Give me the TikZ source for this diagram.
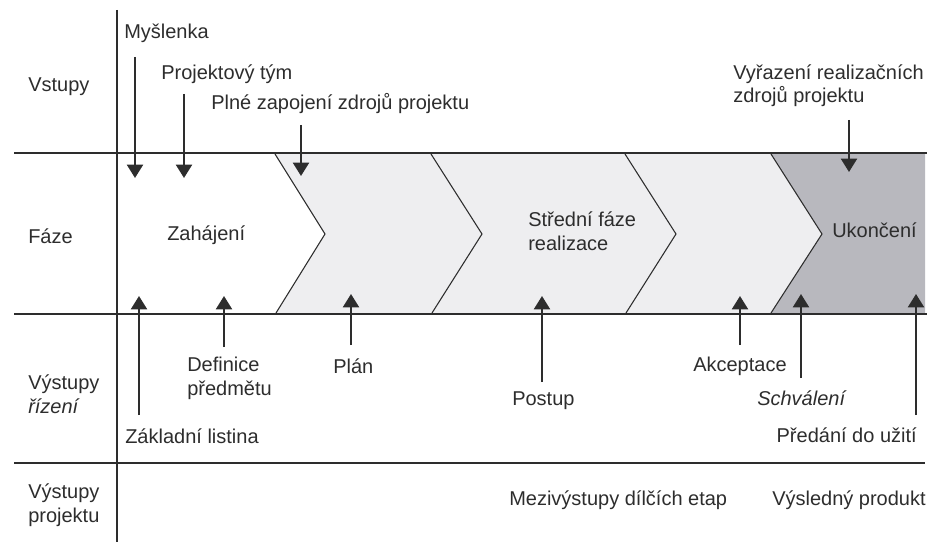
\documentclass[tikz,border=0pt]{standalone}
\usepackage{fontspec}
\setmainfont{Liberation Sans}
\usepackage{tikz}
\usetikzlibrary{arrows.meta}

\definecolor{phaselight}{RGB}{238,238,240}
\definecolor{phasedark}{RGB}{184,184,190}
\definecolor{inkgray}{RGB}{45,45,45}

\begin{document}
\begin{tikzpicture}[x=7.5pt,y=7.5pt]
\tikzset{every node/.style={inner sep=0pt,text=inkgray,font=\fontsize{15}{17.3}\selectfont,align=left},
  lbl/.style={anchor=base west},
  rule/.style={inkgray,line width=1.5pt},
  edge/.style={inkgray,line width=0.8pt},
  flow/.style={inkgray,line width=1.6pt,-{Triangle[width=12pt,length=10pt]}}}
\useasboundingbox (0,0) rectangle (92.9,-54.2);
% phase band
\fill [phaselight] (27.5,-15.4) -- (77.1,-15.4) -- (82.2,-23.4) -- (77.1,-31.3) -- (27.6,-31.3) -- (32.5,-23.4) -- cycle;
\fill [phasedark] (77.1,-15.4) -- (92.5,-15.4) -- (92.5,-31.3) -- (77.1,-31.3) -- (82.2,-23.4) -- cycle;
\draw [edge] (27.5,-15.4) -- (32.5,-23.4) -- (27.6,-31.3);
\draw [edge] (43.1,-15.4) -- (48.2,-23.4) -- (43.2,-31.3);
\draw [edge] (62.5,-15.4) -- (67.6,-23.4) -- (62.6,-31.3);
\draw [edge] (77.1,-15.4) -- (82.2,-23.4) -- (77.1,-31.3);
% grid
\draw [rule] (1.4,-15.3) -- (92.7,-15.3);
\draw [rule] (1.4,-31.4) -- (92.7,-31.4);
\draw [rule] (1.4,-46.3) -- (92.5,-46.3);
\draw [rule] (11.7,-1.0) -- (11.7,-54.2);
% row labels
\draw (2.8,-9.2) node [lbl] (vstupy) {Vstupy};
\draw (2.8,-24.3) node [lbl] (faze) {Fáze};
\draw (2.8,-41.3) node [lbl] (rizeni) {Výstupy\\\textit{řízení}};
\draw (2.8,-52.2) node [lbl] (produkty) {Výstupy\\projektu};
% phases
\draw (16.7,-24.0) node [lbl] (zahajeni) {Zahájení};
\draw (52.8,-25.0) node [lbl] (stredni) {Střední fáze\\realizace};
\draw (83.2,-23.7) node [lbl] (ukonceni) {Ukončení};
% inputs
\draw (12.4,-3.9) node [lbl] (myslenka) {Myšlenka};
\draw (16.1,-8.0) node [lbl] (tym) {Projektový tým};
\draw (21.1,-11.0) node [lbl] (zdroje) {Plné zapojení zdrojů projektu};
\draw (73.3,-10.3) node [lbl] (vyrazeni) {Vyřazení realizačních\\zdrojů projektu};
\coordinate (myslenka1) at (13.5,-5.7);
\coordinate (myslenka2) at (13.5,-17.8);
\coordinate (tym1) at (18.4,-9.4);
\coordinate (tym2) at (18.4,-17.8);
\coordinate (zdroje1) at (30.1,-12.5);
\coordinate (zdroje2) at (30.1,-17.6);
\coordinate (vyrazeni1) at (84.9,-12.0);
\coordinate (vyrazeni2) at (84.9,-17.2);
\draw [flow] (myslenka1) -- (myslenka2);
\draw [flow] (tym1) -- (tym2);
\draw [flow] (zdroje1) -- (zdroje2);
\draw [flow] (vyrazeni1) -- (vyrazeni2);
% management outputs
\draw (12.5,-44.3) node [lbl] (listina) {Základní listina};
\draw (18.7,-39.5) node [lbl] (definice) {Definice\\předmětu};
\draw (33.3,-37.3) node [lbl] (plan) {Plán};
\draw (51.2,-40.5) node [lbl] (postup) {Postup};
\draw (69.3,-37.1) node [lbl] (akceptace) {Akceptace};
\draw (75.7,-40.5) node [lbl] (schvaleni) {\textit{Schválení}};
\draw (91.7,-44.2) node [anchor=base east] (predani) {Předání do užití};
\coordinate (listina1) at (13.9,-41.5);
\coordinate (listina2) at (13.9,-29.6);
\coordinate (definice1) at (22.4,-34.7);
\coordinate (definice2) at (22.4,-29.6);
\coordinate (plan1) at (35.1,-34.5);
\coordinate (plan2) at (35.1,-29.4);
\coordinate (postup1) at (54.2,-38.2);
\coordinate (postup2) at (54.2,-29.6);
\coordinate (akceptace1) at (74.0,-34.5);
\coordinate (akceptace2) at (74.0,-29.6);
\coordinate (schvaleni1) at (80.1,-37.8);
\coordinate (schvaleni2) at (80.1,-29.4);
\coordinate (predani1) at (91.6,-41.5);
\coordinate (predani2) at (91.6,-29.4);
\draw [flow] (listina1) -- (listina2);
\draw [flow] (definice1) -- (definice2);
\draw [flow] (plan1) -- (plan2);
\draw [flow] (postup1) -- (postup2);
\draw [flow] (akceptace1) -- (akceptace2);
\draw [flow] (schvaleni1) -- (schvaleni2);
\draw [flow] (predani1) -- (predani2);
% project outputs
\draw (50.9,-50.5) node [lbl] (mezivystupy) {Mezivýstupy dílčích etap};
\draw (77.2,-50.5) node [lbl] (produkt) {Výsledný produkt};
\end{tikzpicture}
\end{document}
